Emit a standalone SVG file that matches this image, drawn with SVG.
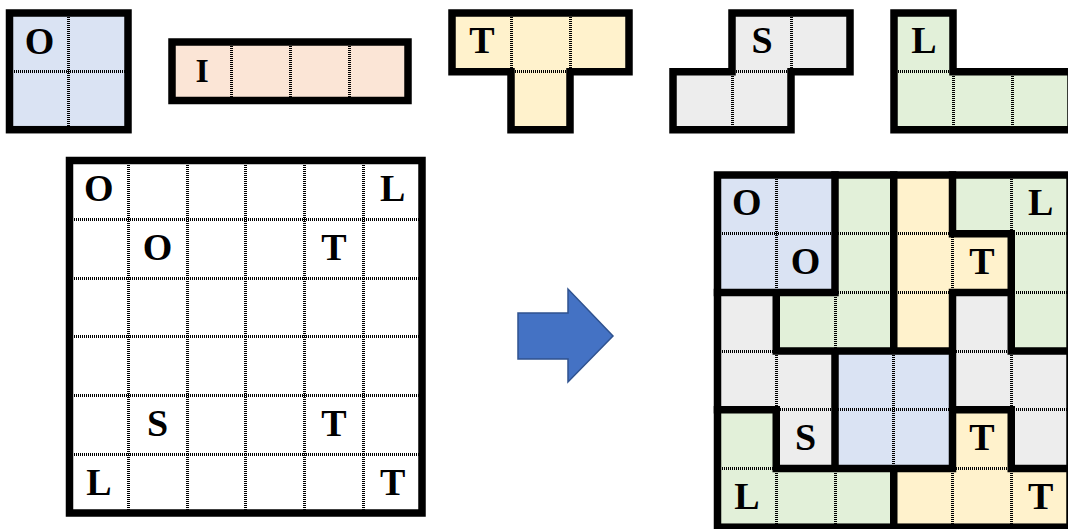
<svg xmlns="http://www.w3.org/2000/svg" width="1068" height="529" viewBox="0 0 1068 529">
<style>
.thick{fill:none;stroke:#000;stroke-width:7.5;stroke-linejoin:miter;stroke-linecap:square}
.dot{fill:none;stroke:#000;stroke-width:3;stroke-dasharray:1 1;shape-rendering:crispEdges}
.lbl{font-family:"Liberation Serif","Times New Roman",serif;font-weight:bold;font-size:38px;fill:#000;text-anchor:middle}
.b{fill:#DAE3F3}.p{fill:#FBE5D6}.y{fill:#FFF2CC}.g{fill:#EDEDED}.n{fill:#E2F0D9}
</style>
<rect width="1068" height="529" fill="#fff"/>

<g id="piece-O">
<rect class="b" x="9.5" y="13" width="118.5" height="116.7"/>
<path class="dot" d="M68.5,13V129.7M9.5,71.5H128"/>
<rect class="thick" x="9.5" y="13" width="118.5" height="116.7"/>
<text class="lbl" x="39.5" y="54">O</text>
</g>

<g id="piece-I">
<rect class="p" x="172" y="42" width="236" height="58.5"/>
<path class="dot" d="M231,42V100.5M290,42V100.5M349,42V100.5"/>
<rect class="thick" x="172" y="42" width="236" height="58.5"/>
<text class="lbl" x="202" y="82" style="font-size:34px">I</text>
</g>

<g id="piece-T">
<path class="y" d="M452,13H629V71.7H570V129.7H511V71.7H452Z"/>
<path class="dot" d="M511,13V71.7M570,13V71.7M511,71.7H570"/>
<path class="thick" d="M452,13H629V71.7H570V129.7H511V71.7H452Z"/>
<text class="lbl" x="482" y="53.3">T</text>
</g>

<g id="piece-S">
<path class="g" d="M732,13H850V71.7H791V129.7H673V71.7H732Z"/>
<path class="dot" d="M791,13V71.7M732,71.7V129.7M732,71.7H791"/>
<path class="thick" d="M732,13H850V71.7H791V129.7H673V71.7H732Z"/>
<text class="lbl" x="762" y="53.3">S</text>
</g>

<g id="piece-L">
<path class="n" d="M894,13H953V71.7H1071V129.7H894Z"/>
<path class="dot" d="M894,71.7H953M953,71.7V129.7M1012,71.7V129.7"/>
<path class="thick" d="M894,13H953V71.7H1071V129.7H894Z"/>
<text class="lbl" x="924" y="53.3">L</text>
</g>

<g id="puzzle-grid">
<rect x="69.5" y="160.5" width="352.5" height="352.5" fill="#fff"/>
<path class="dot" d="M128.25,160.5V513M187,160.5V513M245.75,160.5V513M304.5,160.5V513M363.25,160.5V513M69.5,219.25H422M69.5,278H422M69.5,336.75H422M69.5,395.5H422M69.5,454.25H422"/>
<rect class="thick" x="69.5" y="160.5" width="352.5" height="352.5"/>
<text class="lbl" x="98.9" y="200.9">O</text>
<text class="lbl" x="392.6" y="200.9">L</text>
<text class="lbl" x="157.6" y="259.6">O</text>
<text class="lbl" x="333.9" y="259.6">T</text>
<text class="lbl" x="157.6" y="435.9">S</text>
<text class="lbl" x="333.9" y="435.9">T</text>
<text class="lbl" x="98.9" y="494.6">L</text>
<text class="lbl" x="392.6" y="494.6">T</text>
</g>

<g id="connectors">
<polygon points="518,313 568,313 568,289 613,336 568,382 568,359 518,359" fill="#4472C4" stroke="#2F528F" stroke-width="1.5"/>
</g>

<g id="solution-grid">
<g id="solution-cells">
<rect class="b" x="717.5" y="175" width="58.75" height="58.7"/>
<rect class="b" x="776.25" y="175" width="58.75" height="58.7"/>
<rect class="n" x="835" y="175" width="58.75" height="58.7"/>
<rect class="y" x="893.75" y="175" width="58.75" height="58.7"/>
<rect class="n" x="952.5" y="175" width="58.75" height="58.7"/>
<rect class="n" x="1011.25" y="175" width="58.75" height="58.7"/>
<rect class="b" x="717.5" y="233.7" width="58.75" height="58.7"/>
<rect class="b" x="776.25" y="233.7" width="58.75" height="58.7"/>
<rect class="n" x="835" y="233.7" width="58.75" height="58.7"/>
<rect class="y" x="893.75" y="233.7" width="58.75" height="58.7"/>
<rect class="y" x="952.5" y="233.7" width="58.75" height="58.7"/>
<rect class="n" x="1011.25" y="233.7" width="58.75" height="58.7"/>
<rect class="g" x="717.5" y="292.4" width="58.75" height="58.7"/>
<rect class="n" x="776.25" y="292.4" width="58.75" height="58.7"/>
<rect class="n" x="835" y="292.4" width="58.75" height="58.7"/>
<rect class="y" x="893.75" y="292.4" width="58.75" height="58.7"/>
<rect class="g" x="952.5" y="292.4" width="58.75" height="58.7"/>
<rect class="n" x="1011.25" y="292.4" width="58.75" height="58.7"/>
<rect class="g" x="717.5" y="351.1" width="58.75" height="58.7"/>
<rect class="g" x="776.25" y="351.1" width="58.75" height="58.7"/>
<rect class="b" x="835" y="351.1" width="58.75" height="58.7"/>
<rect class="b" x="893.75" y="351.1" width="58.75" height="58.7"/>
<rect class="g" x="952.5" y="351.1" width="58.75" height="58.7"/>
<rect class="g" x="1011.25" y="351.1" width="58.75" height="58.7"/>
<rect class="n" x="717.5" y="409.8" width="58.75" height="58.7"/>
<rect class="g" x="776.25" y="409.8" width="58.75" height="58.7"/>
<rect class="b" x="835" y="409.8" width="58.75" height="58.7"/>
<rect class="b" x="893.75" y="409.8" width="58.75" height="58.7"/>
<rect class="y" x="952.5" y="409.8" width="58.75" height="58.7"/>
<rect class="g" x="1011.25" y="409.8" width="58.75" height="58.7"/>
<rect class="n" x="717.5" y="468.5" width="58.75" height="58.7"/>
<rect class="n" x="776.25" y="468.5" width="58.75" height="58.7"/>
<rect class="n" x="835" y="468.5" width="58.75" height="58.7"/>
<rect class="y" x="893.75" y="468.5" width="58.75" height="58.7"/>
<rect class="y" x="952.5" y="468.5" width="58.75" height="58.7"/>
<rect class="y" x="1011.25" y="468.5" width="58.75" height="58.7"/>
</g>
<path class="dot" d="M776.25,175V527.2M835,175V527.2M893.75,175V527.2M952.5,175V527.2M1011.25,175V527.2M717.5,233.7H1070M717.5,292.4H1070M717.5,351.1H1070M717.5,409.8H1070M717.5,468.5H1070"/>
<path class="thick" d="
M835,175V292.4 M893.75,175V351.1 M952.5,175V233.7 M1011.25,233.7V351.1
M776.25,292.4V351.1 M952.5,292.4V468.5
M835,351.1V468.5
M776.25,409.8V468.5 M1011.25,409.8V468.5
M893.75,468.5V527.2
M952.5,233.7H1011.25
M717.5,292.4H835 M952.5,292.4H1011.25
M776.25,351.1H952.5 M1011.25,351.1H1070
M717.5,409.8H776.25 M952.5,409.8H1011.25
M776.25,468.5H952.5 M1011.25,468.5H1070"/>
<rect class="thick" x="717.5" y="175" width="352.5" height="352.2"/>
<text class="lbl" x="746.9" y="215.4">O</text>
<text class="lbl" x="1040.6" y="215.4">L</text>
<text class="lbl" x="805.6" y="274.1">O</text>
<text class="lbl" x="981.9" y="274.1">T</text>
<text class="lbl" x="805.6" y="450.2">S</text>
<text class="lbl" x="981.9" y="450.2">T</text>
<text class="lbl" x="746.9" y="508.9">L</text>
<text class="lbl" x="1040.6" y="508.9">T</text>
</g>
</svg>
